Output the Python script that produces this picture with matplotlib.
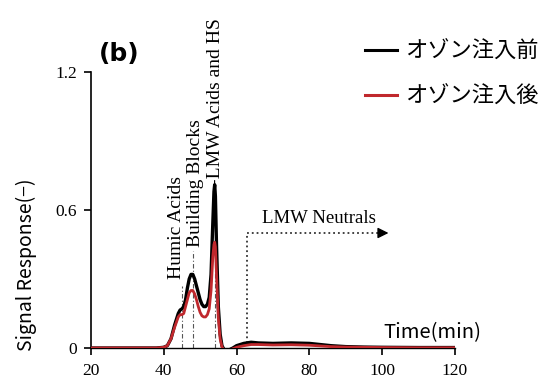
import matplotlib
matplotlib.use("Agg")
import matplotlib.pyplot as plt

# ---- data ----
time = [20, 38, 40, 41, 42, 43, 44, 44.5, 45, 45.5, 46, 46.5, 47, 47.5, 48, 48.5,
        49, 49.5, 50, 50.5, 51, 51.5, 52, 52.5, 53, 53.5, 53.8, 54, 54.2, 54.5,
        55, 55.5, 56, 56.5, 57, 58, 59, 60, 62, 64, 66, 70, 75, 80, 83, 86, 90,
        95, 100, 110, 120]
before = [0, 0, 0.003, 0.01, 0.04, 0.10, 0.15, 0.165, 0.17, 0.18, 0.21, 0.26, 0.30,
          0.32, 0.32, 0.30, 0.27, 0.24, 0.21, 0.19, 0.18, 0.18, 0.19, 0.22, 0.32,
          0.55, 0.68, 0.71, 0.66, 0.45, 0.18, 0.06, 0.01, -0.005, -0.01, -0.008,
          0.0, 0.01, 0.02, 0.025, 0.022, 0.02, 0.022, 0.02, 0.015, 0.01, 0.006,
          0.004, 0.003, 0.002, 0.002]
after = [0, 0, 0.003, 0.01, 0.04, 0.09, 0.135, 0.145, 0.145, 0.15, 0.18, 0.21, 0.24,
         0.25, 0.25, 0.235, 0.21, 0.18, 0.155, 0.14, 0.135, 0.135, 0.145, 0.17, 0.25,
         0.40, 0.45, 0.46, 0.44, 0.32, 0.13, 0.04, 0.005, -0.008, -0.012, -0.01,
         -0.003, 0.003, 0.01, 0.015, 0.015, 0.013, 0.014, 0.012, 0.009, 0.006,
         0.004, 0.003, 0.002, 0.001, 0.001]

labels = ['オゾン注入前', 'オゾン注入後']

# fractions: (time, line top, text x, text bottom, label)
fractions = [(45, 0.27, 43.5, 0.30, 'Humic Acids'),
             (48, 0.42, 48.8, 0.44, 'Building Blocks'),
             (54, 0.72, 54.1, 0.71, '-LMW Acids and HS')]
neutral_start, neutral_top, neutral_end = 62.8, 0.50, 99.0

jp = ['Noto Sans CJK JP', 'DejaVu Sans']
serif = 'Liberation Serif'

fig = plt.figure(figsize=(5.41, 3.83), dpi=100)
ax = fig.add_axes([0.168, 0.0914, 0.673, 0.7206])

ax.plot(time, before, color='black', lw=2.4, label=labels[0], zorder=3)
ax.plot(time, after, color='#c0282d', lw=2.0, label=labels[1], zorder=4)

for t, top, tx, ty, name in fractions:
    ax.plot([t, t], [0, top], color='#555555', lw=0.8, ls=(0, (4, 2, 1, 2)), zorder=2)
    ax.text(tx, ty, name, rotation=90, ha='center', va='bottom', family=serif,
            fontsize=14, clip_on=False)

ax.plot([neutral_start, neutral_start, neutral_end], [0.02, neutral_top, neutral_top],
        color='#333333', lw=1.3, ls=':', zorder=2)
ax.annotate('', xy=(102.5, neutral_top), xytext=(neutral_end, neutral_top),
            arrowprops=dict(arrowstyle='-|>', mutation_scale=16, color='black', lw=1))
ax.text(82.5, 0.565, 'LMW Neutrals', ha='center', va='center', family=serif,
        fontsize=13.5)

ax.text(100.2, 0.065, 'Time(min)', ha='left', va='center', family=jp, fontsize=14.5,
        clip_on=False)

ax.set_xlim(20, 120)
ax.set_ylim(0, 1.2)
ax.set_xticks([20, 40, 60, 80, 100, 120])
ax.set_yticks([0, 0.6, 1.2])
ax.set_yticklabels(['0', '0.6', '1.2'])
for lab in ax.get_xticklabels() + ax.get_yticklabels():
    lab.set_family(serif)
    lab.set_fontsize(12.5)
ax.tick_params(direction='out', length=5, width=1.2)
ax.tick_params(axis='x', pad=6)
ax.tick_params(axis='y', pad=5)
ax.spines['top'].set_visible(False)
ax.spines['right'].set_visible(False)
ax.spines['left'].set_linewidth(1.2)
ax.spines['bottom'].set_linewidth(1.0)

ax.set_ylabel('Signal Response(−)', family=jp, fontsize=14)
ax.yaxis.set_label_coords(-0.148, 0.30)

fig.text(0.183, 0.859, '(b)', fontsize=18, fontweight='bold', family='DejaVu Sans',
         va='center', ha='left')

leg = ax.legend(loc='upper left', bbox_to_anchor=(0.728, 1.15), frameon=False,
                prop={'family': 'Noto Sans CJK JP', 'size': 16}, handlelength=1.45,
                labelspacing=1.0, handletextpad=0.35, borderaxespad=0)
for line in leg.get_lines():
    line.set_linewidth(2.2)

fig.savefig('out.png', dpi=100)
